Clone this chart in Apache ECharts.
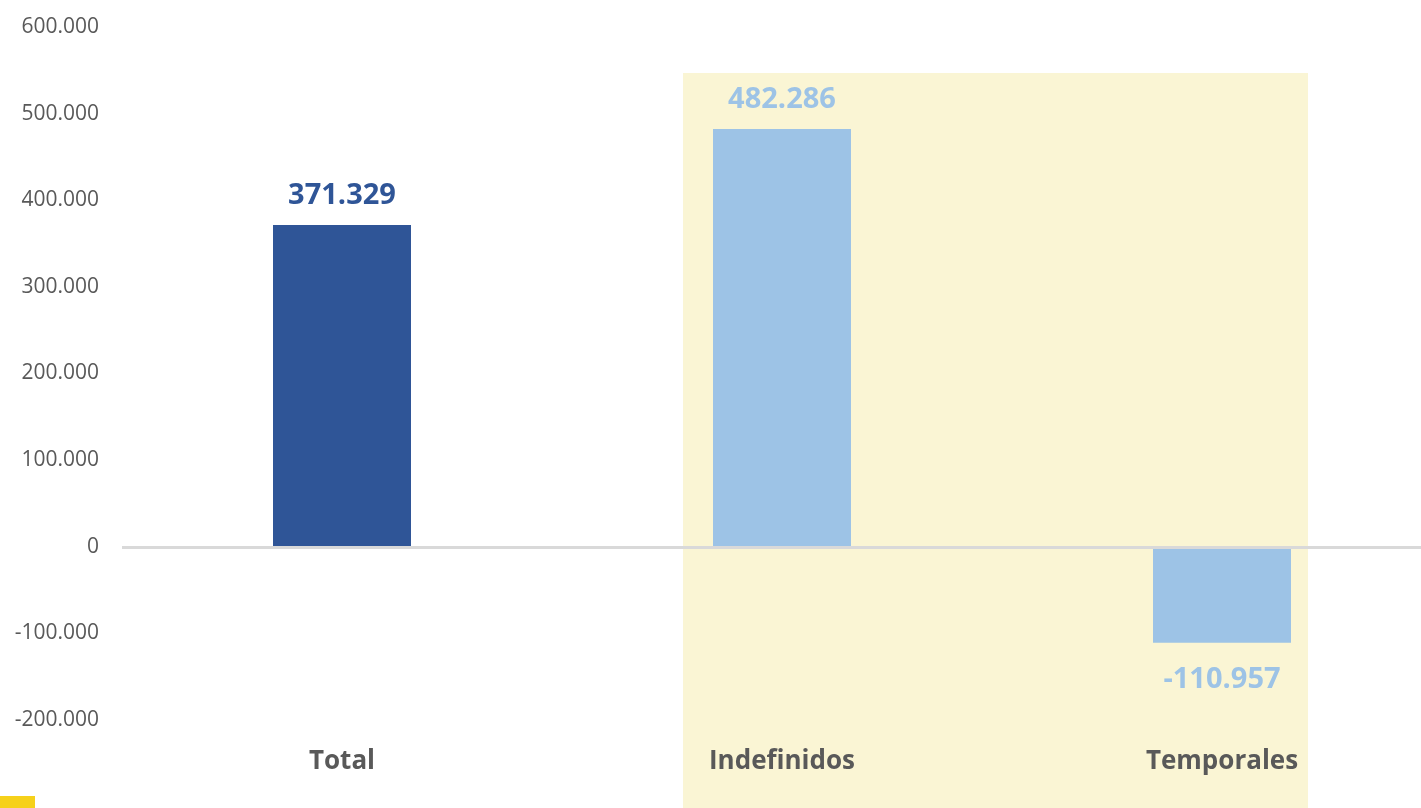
<!DOCTYPE html>
<html>
<head>
<meta charset="utf-8">
<script src="https://cdn.jsdelivr.net/npm/echarts@6/dist/echarts.min.js"></script>
<style>
  html, body { margin: 0; padding: 0; background: #fff; }
  #chart { width: 1421px; height: 808px; }
</style>
</head>
<body>
<div id="chart"></div>
<script>
const categories = ['Total', 'Indefinidos', 'Temporales']
const values = [371329, 482286, -110957]
const barColors = ['#2f5597', '#9dc3e6', '#9dc3e6']

// 371329 -> "371.329"
const fmt = (v) => {
  const s = Math.abs(Math.round(v)).toString().replace(/\B(?=(\d{3})+(?!\d))/g, '.')
  return (v < 0 ? '-' : '') + s
}

const chart = echarts.init(document.getElementById('chart'))

chart.setOption({
  animation: false,
  textStyle: { fontFamily: 'Open Sans' },
  graphic: [
    {
      type: 'rect',
      z: -10,
      shape: { x: 683, y: 73, width: 625, height: 735 },
      style: { fill: '#faf5d4' }
    },
    {
      type: 'rect',
      z: -10,
      shape: { x: 0, y: 796, width: 35, height: 12 },
      style: { fill: '#f6d11a' }
    }
  ],
  grid: {
    left: 122,
    width: 1320,
    top: 27,
    bottom: 88,
    containLabel: false,
    outerBoundsMode: 'none'
  },
  xAxis: {
    type: 'category',
    data: categories,
    axisLine: { show: false, onZero: false },
    axisTick: { show: false },
    axisLabel: {
      margin: 29,
      color: '#595959',
      fontSize: 26,
      fontWeight: 'bold'
    }
  },
  yAxis: {
    type: 'value',
    min: -200000,
    max: 600000,
    interval: 100000,
    splitLine: { show: false },
    axisLine: { show: false },
    axisTick: { show: false },
    axisLabel: {
      margin: 23,
      color: '#595959',
      fontSize: 21,
      formatter: (v) => fmt(v)
    }
  },
  series: [
    {
      type: 'bar',
      barWidth: 138,
      data: values.map((v, i) => ({
        value: v,
        itemStyle: { color: barColors[i] },
        label: {
          color: barColors[i],
          position: v < 0 ? 'bottom' : 'top',
          distance: v < 0 ? 22 : 15
        }
      })),
      label: {
        show: true,
        fontSize: 29,
        fontWeight: 'bold',
        formatter: (p) => fmt(p.value)
      },
      markLine: {
        silent: true,
        symbol: 'none',
        label: { show: false },
        lineStyle: { color: '#d9d9d9', width: 3, type: 'solid' },
        data: [{ yAxis: 0 }]
      }
    }
  ]
})
</script>
</body>
</html>
